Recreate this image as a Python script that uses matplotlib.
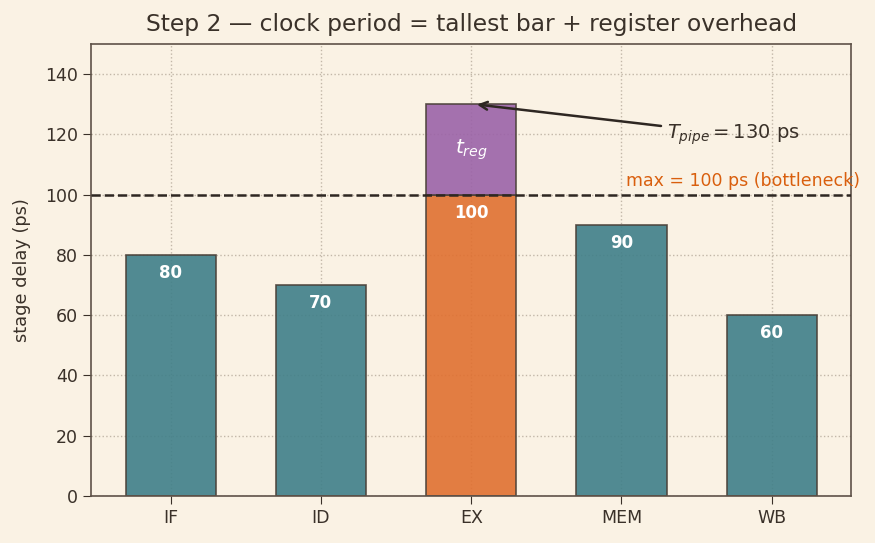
import matplotlib
matplotlib.use("Agg")
import matplotlib.pyplot as plt

stages = ["IF", "ID", "EX", "MEM", "WB"]
delays = [80, 70, 100, 90, 60]
t_reg = 30
bottleneck = 2

bg = "#faf2e4"
ink = "#3a3129"
teal = "#3f7f89"
orange = "#e07030"
purple = "#9b63a8"

fig, ax = plt.subplots(figsize=(8.75, 5.43), dpi=100)
fig.patch.set_facecolor(bg)
ax.set_facecolor(bg)

colors = [orange if i == bottleneck else teal for i in range(len(stages))]
x = range(len(stages))
ax.bar(x, delays, width=0.6, color=colors, edgecolor="#4a4038", linewidth=1.2, alpha=0.9, zorder=2)
ax.bar([bottleneck], [t_reg], bottom=[delays[bottleneck]], width=0.6, color=purple,
       edgecolor="#4a4038", linewidth=1.2, alpha=0.9, zorder=2)

for i, d in enumerate(delays):
    ax.text(i, d - 6, str(d), ha="center", va="center", color="white",
            fontsize=12, fontweight="bold", zorder=4)

ax.text(bottleneck, delays[bottleneck] + t_reg / 2, r"$t_{reg}$", ha="center", va="center",
        color="white", fontsize=14.5, zorder=4)

top = max(delays)
ax.axhline(top, color="#2e2722", linestyle="--", linewidth=1.8, zorder=3)
ax.text(3.03, top + 1.5, "max = 100 ps (bottleneck)", color="#d95f0e", fontsize=12.5,
        ha="left", va="bottom", zorder=4)

ax.annotate(r"$T_{pipe} = 130$ ps", xy=(2.02, top + t_reg), xytext=(3.3, 120),
            fontsize=14, color=ink, ha="left", va="center",
            arrowprops=dict(arrowstyle="->", color="#2e2722", lw=1.8), zorder=5)

ax.set_ylim(0, 150)
ax.set_yticks(range(0, 141, 20))
ax.set_xticks(list(x))
ax.set_xticklabels(stages)
ax.set_ylabel("stage delay (ps)", fontsize=12.8, color=ink, labelpad=10)
ax.set_title("Step 2 \u2014 clock period = tallest bar + register overhead", fontsize=16.8,
             color=ink, pad=9)
ax.grid(True, linestyle=":", color="#c2b7a8", linewidth=1, zorder=0)
ax.set_axisbelow(True)
for s in ax.spines.values():
    s.set_color("#5e5248")
    s.set_linewidth(1.2)
ax.tick_params(colors=ink, labelsize=12.5, length=5.5, pad=4)

fig.subplots_adjust(left=0.104, right=0.973, top=0.919, bottom=0.087)
fig.savefig("out.png", dpi=100, facecolor=bg)
